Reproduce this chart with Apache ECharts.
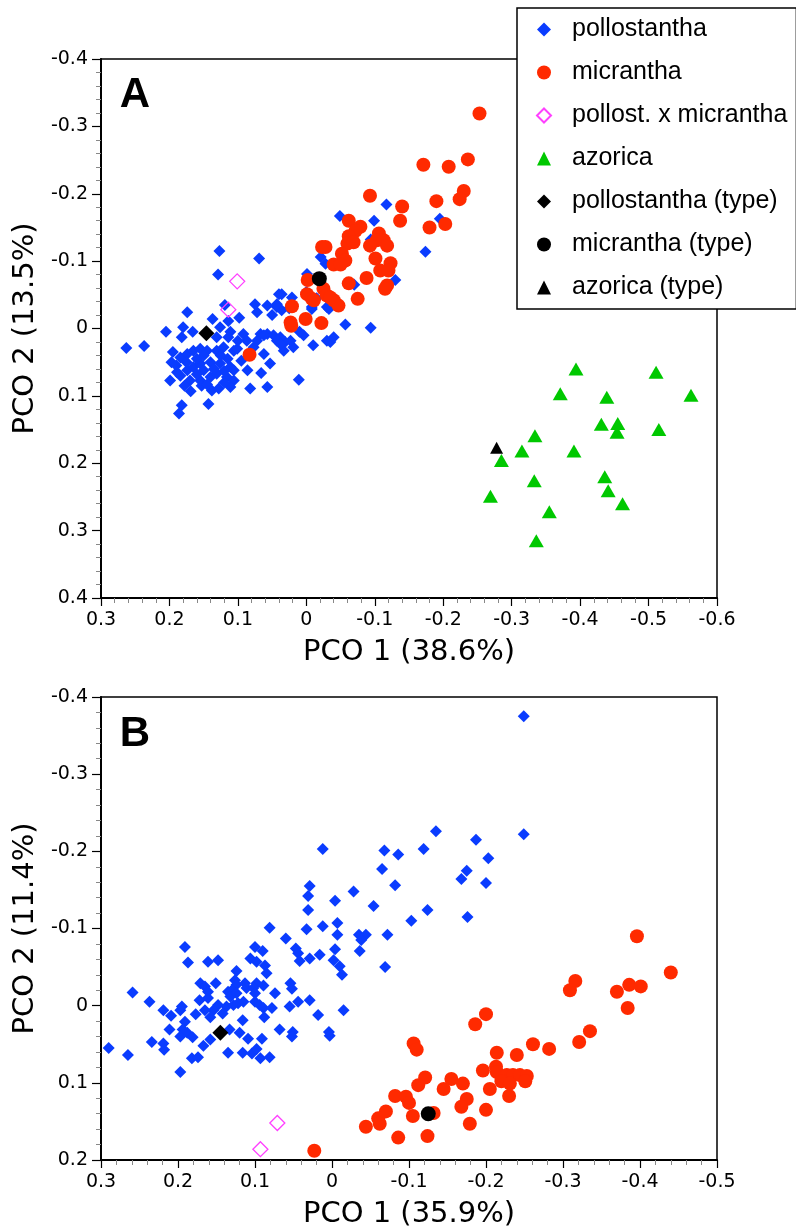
<!DOCTYPE html>
<html><head><meta charset="utf-8">
<script src="https://cdn.jsdelivr.net/npm/echarts@6/dist/echarts.min.js"></script>
<style>html,body{margin:0;padding:0;background:#fff}#c{width:796px;height:1231px}</style>
</head><body><div id="c"></div>
<script>
// ---------- axis ranges / titles ----------
const xRangeA = [-0.6, 0.3];
const yRangeA = [-0.4, 0.4];
const xRangeB = [-0.5, 0.3];
const yRangeB = [-0.4, 0.2];
const xTitleA = 'PCO 1 (38.6%)';
const yTitleA = 'PCO 2 (13.5%)';
const xTitleB = 'PCO 1 (35.9%)';
const yTitleB = 'PCO 2 (11.4%)';
const legendNames = ['pollostantha','micrantha','pollost. x micrantha','azorica','pollostantha (type)','micrantha (type)','azorica (type)'];

// ---------- panel A data [PCO1, PCO2] ----------
const pollostanthaA = [
[0.127,-0.115],[0.069,-0.104],[0.129,-0.080],[-0.021,-0.106],[-0.028,-0.096],[-0.049,-0.167],[-0.099,-0.160],[-0.094,-0.132],[-0.117,-0.184],[-0.130,-0.072],[-0.070,-0.065],[-0.001,-0.081],[-0.195,-0.163],[-0.174,-0.114],
[0.000,-0.054],[0.021,-0.046],[0.036,-0.051],[-0.008,-0.032],[-0.030,-0.032],[-0.008,-0.029],[-0.030,0.018],
[0.263,0.029],[0.237,0.026],[0.174,-0.024],[0.205,0.005],[0.180,-0.002],[0.182,0.013],[0.166,0.005],[0.137,-0.014],[0.114,-0.011],[0.098,-0.016],[0.126,-0.002],[0.111,0.005],[0.114,0.013],[0.092,0.008],[0.087,0.018],[0.077,0.028],[0.067,0.008],[0.057,0.008],[0.048,0.010],
[0.197,0.050],[0.184,0.043],[0.174,0.038],[0.165,0.033],[0.155,0.030],[0.145,0.033],[0.131,0.033],[0.121,0.028],[0.106,0.033],[0.101,0.030],
[0.199,0.077],[0.184,0.070],[0.174,0.062],[0.165,0.057],[0.155,0.052],[0.140,0.050],[0.126,0.052],[0.111,0.057],[0.106,0.062],
[0.189,0.065],[0.170,0.077],[0.155,0.077],[0.140,0.072],[0.131,0.067],[0.116,0.072],[0.106,0.077],
[0.169,0.093],[0.153,0.085],[0.138,0.092],[0.128,0.089],[0.111,0.087],
[0.182,0.114],[0.186,0.126],[0.143,0.112],
[0.082,0.089],[0.057,0.087],[0.086,0.062],[0.066,0.066],[0.053,0.052],[0.062,0.038],[0.033,0.033],[0.031,0.020],[0.038,0.013],[0.019,0.028],[0.011,0.076],[0.004,0.010],[-0.035,0.020],[-0.040,0.013],[-0.057,-0.006],[-0.094,-0.001],
[0.072,-0.024],[0.057,-0.034],[0.043,-0.032],[0.036,-0.027],[-0.033,-0.029],
[0.075,-0.036],[0.043,-0.036],[0.119,-0.035],[0.131,0.013],
[0.040,-0.051],[0.062,0.010],[0.043,0.018],[0.038,0.023],[0.023,0.018],
[0.190,0.055],[0.160,0.045],[0.150,0.062],[0.135,0.060],[0.120,0.063],[0.178,0.085],[0.145,0.083],[0.120,0.080],[0.160,0.068],[0.195,0.035],[0.115,0.045],[0.095,0.048],
[0.175,0.050],[0.150,0.040],[0.125,0.040],[0.100,0.018],[0.072,0.018],[0.050,-0.020],[0.025,-0.030],[-0.015,-0.045],[0.010,0.005],[-0.010,0.025]
];
const micranthaA = [
[-0.253,-0.319],[-0.171,-0.243],[-0.208,-0.240],[-0.236,-0.251],[-0.230,-0.204],[-0.224,-0.192],[-0.190,-0.189],[-0.093,-0.197],[-0.140,-0.181],[-0.137,-0.160],[-0.180,-0.150],[-0.203,-0.155],[-0.062,-0.160],[-0.079,-0.151],[-0.072,-0.145],[-0.062,-0.137],[-0.060,-0.126],[-0.069,-0.128],[-0.106,-0.141],[-0.103,-0.131],[-0.113,-0.131],[-0.118,-0.123],[-0.093,-0.123],[-0.023,-0.121],[-0.028,-0.121],[-0.052,-0.111],[-0.057,-0.101],[-0.040,-0.095],[-0.050,-0.095],[-0.101,-0.104],[-0.123,-0.097],[-0.108,-0.086],[-0.120,-0.086],[-0.088,-0.075],[-0.062,-0.067],[-0.118,-0.064],[-0.115,-0.059],[-0.075,-0.044],[-0.002,-0.072],[-0.025,-0.059],[-0.030,-0.049],[-0.040,-0.042],[-0.047,-0.034],[-0.001,-0.051],[-0.008,-0.044],[0.021,-0.033],[0.023,-0.009],[0.022,-0.004],[0.001,-0.014],[-0.022,-0.008],[0.083,0.039],[-0.011,-0.042],[-0.035,-0.046]
];
const hybridA = [[0.101,-0.070],[0.114,-0.028]];
const azoricaA = [
[-0.394,0.060],[-0.511,0.065],[-0.371,0.097],[-0.439,0.102],[-0.562,0.099],[-0.431,0.142],[-0.455,0.141],[-0.454,0.154],[-0.515,0.150],[-0.334,0.159],[-0.315,0.182],[-0.391,0.182],[-0.285,0.196],[-0.333,0.226],[-0.436,0.220],[-0.441,0.241],[-0.269,0.249],[-0.462,0.260],[-0.355,0.272],[-0.336,0.315]
];
const pollTypeA = [[0.146,0.007]];
const micTypeA = [[-0.019,-0.074]];
const azoTypeA = [[-0.278,0.177]];

// ---------- panel B data ----------
const pollostanthaB = [
[0.012,-0.203],[0.029,-0.155],[0.031,-0.142],[-0.028,-0.148],[-0.004,-0.136],[0.031,-0.124],[0.081,-0.101],[0.033,-0.099],[0.012,-0.103],[-0.007,-0.107],[-0.007,-0.092],[0.060,-0.087],[0.191,-0.076],[0.100,-0.076],[0.090,-0.071],[0.047,-0.074],[0.044,-0.068],[0.042,-0.058],[0.029,-0.061],[0.016,-0.066],[-0.004,-0.073],[-0.002,-0.059],[-0.010,-0.051],[-0.013,-0.040],[0.187,-0.056],[0.161,-0.057],[0.148,-0.059],[0.106,-0.061],[0.098,-0.057],[0.087,-0.052],[0.085,-0.042],[0.124,-0.045],[0.126,-0.033],[0.124,-0.027],[0.171,-0.029],[0.165,-0.025],[0.161,-0.018],[0.151,-0.029],[0.113,-0.029],[0.111,-0.023],[0.098,-0.029],[0.089,-0.026],[0.102,-0.023],[0.100,-0.016],
[0.135,-0.018],[0.130,-0.020],[0.132,-0.012],[0.074,-0.016],[0.054,-0.029],[0.052,-0.022],[0.259,-0.017],[0.237,-0.005],[0.172,-0.007],[0.161,-0.010],[0.148,-0.001],[0.154,0.006],[0.165,0.006],
[0.137,0.001],[0.128,-0.001],[0.122,-0.003],[0.115,-0.005],[0.124,-0.016],[0.100,-0.005],[0.094,-0.001],[0.089,0.003],[0.078,0.003],
[0.044,-0.005],[0.029,-0.007],[0.055,0.001],[-0.015,0.006],
[0.219,0.006],[0.209,0.013],[0.197,0.006],[0.195,0.001],[0.177,0.011],[0.158,0.015],[0.142,0.010],
[0.191,0.021],[0.194,0.031],[0.188,0.035],[0.181,0.041],[0.197,0.040],[0.211,0.031],
[0.116,0.019],[0.088,0.015],[0.068,0.031],[0.051,0.034],[0.052,0.040],[0.018,0.012],[0.004,0.034],[0.003,0.039],[0.120,0.035],[0.109,0.043],[0.091,0.043],[0.133,0.031],[0.158,0.044],[0.167,0.052],
[0.135,0.061],[0.116,0.061],[0.104,0.062],[0.098,0.056],[0.093,0.068],[0.081,0.067],[0.182,0.068],[0.174,0.067],[0.197,0.086],
[0.234,0.047],[0.219,0.049],[0.218,0.057],[0.290,0.055],[0.265,0.064],
[-0.249,-0.375],[-0.249,-0.222],[-0.135,-0.226],[-0.187,-0.215],[-0.068,-0.201],[-0.086,-0.196],[-0.119,-0.203],[-0.203,-0.191],[-0.065,-0.177],[-0.082,-0.156],[-0.175,-0.175],[-0.168,-0.164],[-0.200,-0.159],[-0.124,-0.124],[-0.103,-0.110],[-0.176,-0.115],[-0.072,-0.092],
[-0.054,-0.129],[-0.035,-0.092],[-0.044,-0.092],[-0.038,-0.085],[-0.036,-0.071],[-0.069,-0.050]
];
const micranthaB = [
[-0.396,-0.090],[-0.440,-0.043],[-0.316,-0.032],[-0.309,-0.020],[-0.386,-0.027],[-0.401,-0.025],[-0.370,-0.018],[-0.384,0.003],[-0.200,0.011],[-0.186,0.024],[-0.335,0.033],[-0.321,0.047],[-0.106,0.049],[-0.110,0.057],[-0.261,0.050],[-0.282,0.056],[-0.214,0.061],[-0.240,0.064],[-0.196,0.084],[-0.213,0.079],[-0.214,0.086],[-0.227,0.090],[-0.235,0.090],[-0.244,0.090],[-0.253,0.091],[-0.220,0.098],[-0.231,0.101],[-0.251,0.098],[-0.205,0.108],[-0.230,0.117],[-0.121,0.093],[-0.112,0.103],[-0.155,0.095],[-0.170,0.101],[-0.145,0.108],[-0.082,0.117],[-0.096,0.118],[-0.100,0.126],[-0.175,0.121],[-0.168,0.131],[-0.200,0.135],[-0.070,0.137],[-0.060,0.146],[-0.062,0.153],[-0.044,0.157],[-0.105,0.143],[-0.132,0.139],[-0.179,0.153],[-0.086,0.171],[-0.124,0.169],[0.023,0.188]
];
const hybridB = [[0.071,0.152],[0.093,0.186]];
const pollTypeB = [[0.145,0.035]];
const micTypeB = [[-0.125,0.140]];

// ---------- styling ----------
const BLUE = '#0a3cff', RED = '#ff2a00', GREEN = '#00c800', MAG = '#ff40ff';
const TICK_FONT = 'DejaVu Sans';
const fmt = v => { const r = Math.round(v * 10) / 10; return r === 0 ? '0' : String(r); };

function mkAxis(range, gridIndex, name, isX) {
  return {
    type: 'value', gridIndex, min: range[0], max: range[1], interval: 0.1, inverse: true,
    name, nameLocation: 'middle', nameGap: isX ? 40 : 56,
    nameTextStyle: { fontFamily: TICK_FONT, fontSize: 29, color: '#000' },
    axisLine: { show: true, onZero: false, lineStyle: { color: '#000', width: 2 } },
    axisTick: { show: true, inside: false, length: isX ? 8 : 9, lineStyle: { color: '#000', width: 1.2 } },
    minorTick: { show: true, splitNumber: 5, length: 5, lineStyle: { color: '#888', width: 1 } },
    splitLine: { show: false }, minorSplitLine: { show: false },
    axisLabel: { formatter: fmt, fontFamily: TICK_FONT, fontSize: 19, color: '#000', margin: 13, showMinLabel: true, showMaxLabel: true }
  };
}

function sc(name, data, xi, symbol, size, color, extra) {
  return Object.assign({
    type: 'scatter', name, data, xAxisIndex: xi, yAxisIndex: xi,
    symbol, symbolSize: size,
    itemStyle: { color, opacity: 1 },
    emphasis: { disabled: true }
  }, extra || {});
}
const openStyle = { itemStyle: { color: 'rgba(255,255,255,0)', borderColor: MAG, borderWidth: 1.3, opacity: 1 } };

const chart = echarts.init(document.getElementById('c'), null, { renderer: 'canvas' });
chart.setOption({
  animation: false,
  backgroundColor: '#fff',
  grid: [
    { left: 101, top: 59, width: 616, height: 539, show: true, borderColor: '#000', borderWidth: 1.5, backgroundColor: 'rgba(0,0,0,0)' },
    { left: 101, top: 697, width: 616, height: 463, show: true, borderColor: '#000', borderWidth: 1.5, backgroundColor: 'rgba(0,0,0,0)' }
  ],
  xAxis: [ mkAxis(xRangeA, 0, xTitleA, true), mkAxis(xRangeB, 1, xTitleB, true) ],
  yAxis: [ mkAxis(yRangeA, 0, yTitleA, false), mkAxis(yRangeB, 1, yTitleB, false) ],
  legend: {
    orient: 'vertical', left: 517, top: 8, padding: [9, 9, 9, 19],
    itemWidth: 14, itemHeight: 14, itemGap: 18,
    backgroundColor: '#fff', borderColor: '#000', borderWidth: 1.5, borderRadius: 0,
    textStyle: { fontFamily: 'Liberation Sans', fontSize: 25, color: '#000', padding: [0, 0, 0, 16] },
    selectedMode: false,
    data: legendNames
  },
  graphic: [
    { type: 'text', x: 135, y: 95, style: { text: 'A', font: 'bold 42px "Liberation Sans"', fill: '#000', align: 'center', verticalAlign: 'middle' } },
    { type: 'text', x: 135, y: 734, style: { text: 'B', font: 'bold 42px "Liberation Sans"', fill: '#000', align: 'center', verticalAlign: 'middle' } }
  ],
  series: [
    sc(legendNames[0], pollostanthaA, 0, 'diamond', 12, BLUE),
    sc(legendNames[1], micranthaA, 0, 'circle', 14, RED),
    sc(legendNames[2], hybridA, 0, 'diamond', 15, MAG, openStyle),
    sc(legendNames[3], azoricaA, 0, 'triangle', [15, 13], GREEN),
    sc(legendNames[4], pollTypeA, 0, 'diamond', 16, '#000'),
    sc(legendNames[5], micTypeA, 0, 'circle', 15, '#000'),
    sc(legendNames[6], azoTypeA, 0, 'triangle', [13, 12], '#000'),
    sc(legendNames[0], pollostanthaB, 1, 'diamond', 12, BLUE),
    sc(legendNames[1], micranthaB, 1, 'circle', 14, RED),
    sc(legendNames[2], hybridB, 1, 'diamond', 15, MAG, openStyle),
    sc(legendNames[4], pollTypeB, 1, 'diamond', 16, '#000'),
    sc(legendNames[5], micTypeB, 1, 'circle', 15, '#000')
  ]
});
</script></body></html>
